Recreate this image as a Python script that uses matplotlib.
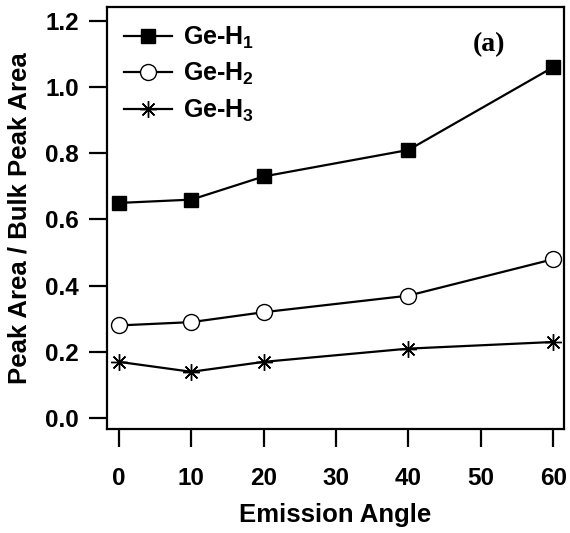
import matplotlib
matplotlib.use("Agg")
import matplotlib.pyplot as plt

# emission angle (deg)
angles = [0, 10, 20, 40, 60]
ge_h1 = [0.65, 0.66, 0.73, 0.81, 1.06]
ge_h2 = [0.28, 0.29, 0.32, 0.37, 0.48]
ge_h3 = [0.17, 0.14, 0.17, 0.21, 0.23]

xticks = [0, 10, 20, 30, 40, 50, 60]
yticks = [0.0, 0.2, 0.4, 0.6, 0.8, 1.0, 1.2]

plt.rcParams['font.family'] = ['Liberation Sans', 'DejaVu Sans']
plt.rcParams['font.weight'] = 'bold'
plt.rcParams['mathtext.fontset'] = 'custom'
plt.rcParams['mathtext.bf'] = 'Liberation Sans:bold'

fig = plt.figure(figsize=(5.7, 5.33), dpi=100)
ax = fig.add_axes([0.1877, 0.195, 0.8018, 0.792])

lw = 1.6
ax.plot(angles, ge_h1, color='black', lw=lw, marker='s', ms=10.5,
        mfc='black', mec='black', label='Ge-H$_\\mathbf{1}$')
ax.plot(angles, ge_h2, color='black', lw=lw, marker='o', ms=11.5,
        mfc='white', mec='black', mew=1.0, label='Ge-H$_\\mathbf{2}$')
ax.plot(angles, ge_h3, color='black', lw=lw, marker=(8, 2, 0), ms=12,
        mec='black', mew=1.0, label='Ge-H$_\\mathbf{3}$')

ax.set_xlim(-1.66, 61.5)
ax.set_ylim(-0.033, 1.242)
ax.set_xticks(xticks)
ax.set_yticks(yticks)
ax.set_xticklabels([str(t) for t in xticks])
ax.set_yticklabels(['%.1f' % t for t in yticks])

for s in ax.spines.values():
    s.set_linewidth(1.6)
ax.tick_params(direction='out', length=13, width=1.6, labelsize=17.5)
ax.tick_params(axis='x', pad=14)
ax.tick_params(axis='y', pad=7)

ax.set_xlabel('Emission Angle', fontsize=18.5, fontweight='bold', labelpad=10)
ax.set_ylabel('Peak Area / Bulk Peak Area', fontsize=18.5, fontweight='bold', labelpad=10)

ax.legend(loc='upper left', frameon=False, fontsize=18, handlelength=1.9,
          labelspacing=0.42, borderaxespad=0.2, handletextpad=0.45,
          borderpad=0.5)

ax.text(489 / 570, 1 - 45 / 533, '(a)', transform=fig.transFigure, fontsize=20,
        fontweight='bold', family='Liberation Serif', ha='center', va='center')

fig.savefig('out.png', dpi=100)
